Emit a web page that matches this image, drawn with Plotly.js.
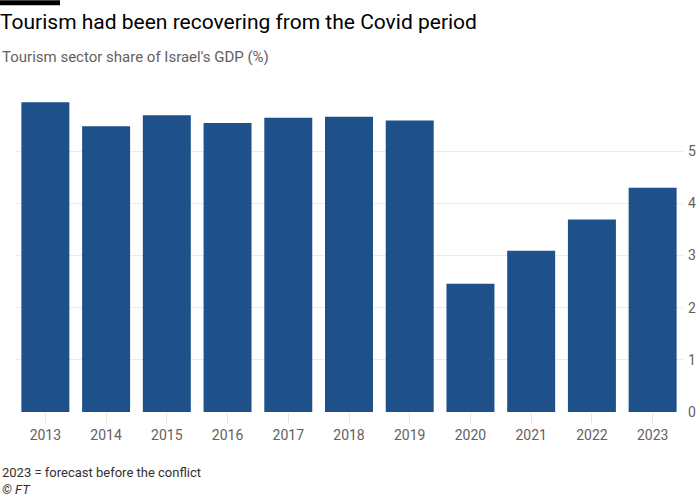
<!DOCTYPE html>
<html>
<head>
<meta charset="utf-8">
<script src="https://cdn.plot.ly/plotly-3.0.1.min.js"></script>
<style>html,body{margin:0;padding:0;background:#fff;}#chart{width:700px;height:500px;}</style>
</head>
<body>
<div id="chart"></div>
<script>
var years = ["2013","2014","2015","2016","2017","2018","2019","2020","2021","2022","2023"];
var share = [5.94, 5.48, 5.69, 5.54, 5.64, 5.66, 5.59, 2.46, 3.09, 3.69, 4.30];
var yTicks = [0, 1, 2, 3, 4, 5];

var titleText = "Tourism had been recovering from the Covid period";
var subtitleText = "Tourism sector share of Israel's GDP (%)";
var noteText = "2023 = forecast before the conflict";
var sourceText = "© FT";

var W = 700, H = 500;
var mL = 15, mR = 17, mT = 99, mB = 87.5;
var pw = W - mL - mR, ph = H - mT - mB;
function px2x(p){ return (p - mL) / pw; }
function py2y(p){ return (H - mB - p) / ph; }

var font = "Roboto, 'Noto Sans', sans-serif";

var trace = {
  type: "bar",
  x: years,
  y: share,
  marker: {color: "#1e5189"},
  hoverinfo: "x+y"
};

var layout = {
  width: W, height: H,
  margin: {l: mL, r: mR, t: mT, b: mB, autoexpand: false},
  paper_bgcolor: "#ffffff",
  plot_bgcolor: "#ffffff",
  bargap: 0.21,
  showlegend: false,
  font: {family: font, color: "#66605c"},
  title: {
    text: titleText,
    font: {family: font, size: 21, color: "#000000"},
    xref: "container", yref: "container",
    x: 0, xanchor: "left",
    y: 1 - 22/H, yanchor: "middle",
    pad: {l: 0, t: 0, r: 0, b: 0}
  },
  xaxis: {
    type: "category",
    ticks: "outside",
    ticklen: 10,
    tickcolor: "#e3e3e3",
    tickwidth: 1,
    showgrid: false,
    showline: false,
    zeroline: false,
    tickfont: {family: font, size: 14, color: "#66605c"},
    automargin: false
  },
  yaxis: {
    side: "right",
    range: [0, 6],
    tickvals: yTicks,
    ticktext: yTicks.map(String),
    ticks: "",
    ticklabelstandoff: 4,
    showgrid: true,
    gridcolor: "#ebebeb",
    gridwidth: 1,
    zeroline: false,
    showline: false,
    tickfont: {family: font, size: 14, color: "#66605c"},
    automargin: false
  },
  shapes: [{
    type: "rect", xref: "paper", yref: "paper",
    x0: px2x(0), x1: px2x(60), y0: py2y(5), y1: py2y(0),
    fillcolor: "#000000", line: {width: 0}, layer: "above"
  }],
  annotations: [
    {text: subtitleText, xref: "paper", yref: "paper", x: px2x(0), y: py2y(57),
     xanchor: "left", yanchor: "middle", showarrow: false,
     font: {family: font, size: 15, color: "#66605c"}},
    {text: noteText, xref: "paper", yref: "paper", x: px2x(0), y: py2y(473),
     xanchor: "left", yanchor: "middle", showarrow: false,
     font: {family: font, size: 13, color: "#33302e"}},
    {text: "<i>" + sourceText + "</i>", xref: "paper", yref: "paper", x: px2x(0), y: py2y(490),
     xanchor: "left", yanchor: "middle", showarrow: false,
     font: {family: font, size: 13, color: "#33302e"}}
  ]
};

Plotly.newPlot("chart", [trace], layout, {displayModeBar: false, staticPlot: true});
</script>
</body>
</html>
